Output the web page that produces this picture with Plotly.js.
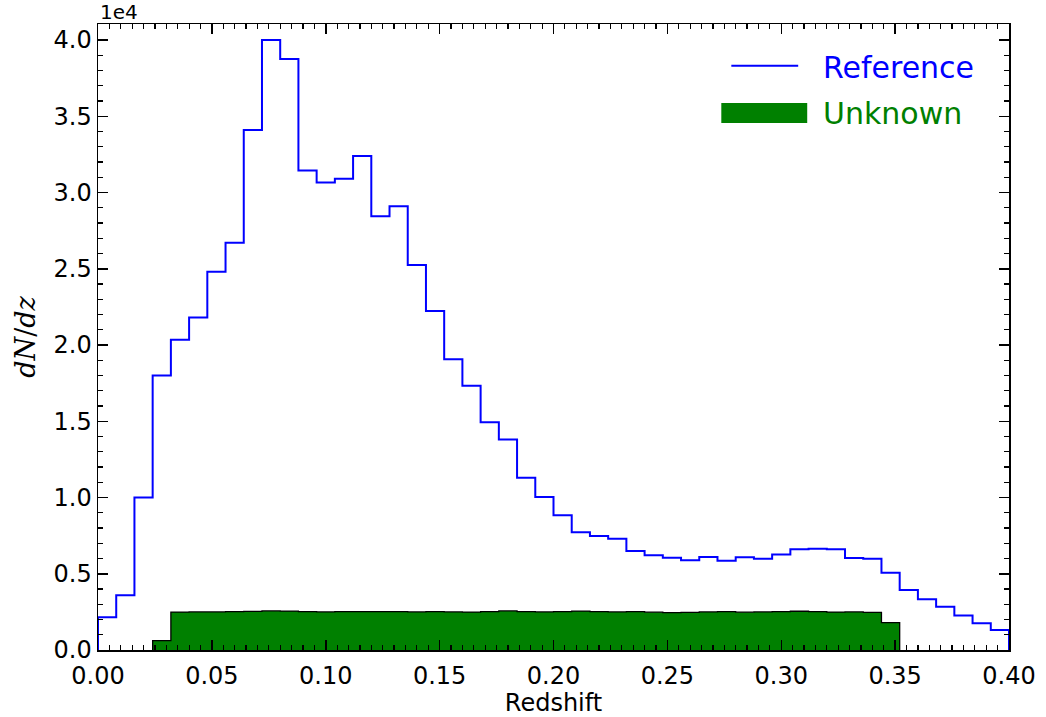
<!DOCTYPE html>
<html>
<head>
<meta charset="utf-8">
<script src="https://cdn.plot.ly/plotly-3.0.1.min.js"></script>
<style>html,body{margin:0;padding:0;background:#fff;}#chart{width:1046px;height:717px;}</style>
</head>
<body>
<div id="chart"></div>
<script>
// Histogram bins: 50 bins of width 0.008 from z = 0 to 0.4
const binStart = 0.0;
const binWidth = 0.008;
const binCount = 50;

// Reference sample dN/dz per bin
const referenceCounts = [
  2140, 3590, 10000, 18000, 20350, 21800, 24800, 26700, 34100, 40000,
  38750, 31450, 30650, 30900, 32400, 28450, 29100, 25250, 22230, 19060,
  17330, 14930, 13810, 11300, 10030, 8830, 7720, 7480, 7300, 6490,
  6210, 6050, 5880, 6100, 5860, 6080, 5990, 6270, 6600, 6640,
  6600, 6030, 5990, 5070, 3930, 3320, 2840, 2270, 1750, 1310
];

// Unknown sample dN/dz per bin (zero outside 0.024-0.352)
const unknownCounts = [
  0, 0, 0, 610, 2490, 2500, 2500, 2510, 2530, 2560,
  2550, 2510, 2500, 2510, 2520, 2520, 2510, 2500, 2520, 2500,
  2490, 2510, 2560, 2520, 2500, 2510, 2550, 2510, 2500, 2510,
  2480, 2450, 2470, 2500, 2510, 2480, 2500, 2510, 2540, 2510,
  2490, 2500, 2470, 1790, 0, 0, 0, 0, 0, 0
];

const seriesNames = ['Reference', 'Unknown'];
const seriesColors = ['#0000ff', '#008000'];

const yTickVals = [0, 5000, 10000, 15000, 20000, 25000, 30000, 35000, 40000];
const yTickText = ['0.0', '0.5', '1.0', '1.5', '2.0', '2.5', '3.0', '3.5', '4.0'];
const yMinorVals = [1000,2000,3000,4000,6000,7000,8000,9000,11000,12000,13000,14000,
  16000,17000,18000,19000,21000,22000,23000,24000,26000,27000,28000,29000,
  31000,32000,33000,34000,36000,37000,38000,39000,41000];
const xTickVals = [0, 0.05, 0.10, 0.15, 0.20, 0.25, 0.30, 0.35, 0.40];

const edges = [];
for (let i = 0; i <= binCount; i++) edges.push(+(binStart + i * binWidth).toFixed(6));

// matplotlib 'step' outline: start and end at zero
function stepXY(counts, trim) {
  let first = 0, last = counts.length - 1;
  if (trim) {
    while (first < counts.length && counts[first] === 0) first++;
    while (last >= 0 && counts[last] === 0) last--;
  }
  const x = [edges[first]], y = [0];
  for (let i = first; i <= last; i++) { x.push(edges[i]); y.push(counts[i]); }
  x.push(edges[last + 1]); y.push(counts[last]);
  x.push(edges[last + 1]); y.push(0);
  return {x, y};
}

const ref = stepXY(referenceCounts, false);
const unk = stepXY(unknownCounts, true);

const traces = [
  {
    x: unk.x, y: unk.y, type: 'scatter', mode: 'lines',
    line: {shape: 'hv', width: 0, color: seriesColors[1]},
    fill: 'tozeroy', fillcolor: seriesColors[1],
    name: seriesNames[1], showlegend: false, hoverinfo: 'skip'
  },
  {
    x: unk.x, y: unk.y, type: 'scatter', mode: 'lines',
    line: {shape: 'hv', width: 1.3, color: '#000000'},
    showlegend: false, hoverinfo: 'skip'
  },
  {
    x: ref.x, y: ref.y, type: 'scatter', mode: 'lines',
    line: {shape: 'hv', width: 2, color: seriesColors[0]},
    name: seriesNames[0], showlegend: false, hoverinfo: 'skip'
  }
];

const axisCommon = {
  showline: true, linecolor: '#000', linewidth: 1.5, mirror: 'allticks',
  ticks: 'inside', tickcolor: '#000', tickwidth: 1.5, ticklen: 10,
  showgrid: false, zeroline: false,
  tickfont: {family: 'DejaVu Sans', size: 24, color: '#000'}
};

// legend drawn in paper coordinates (matplotlib-style legend)
const legendShapes = [
  {type: 'line', xref: 'paper', yref: 'paper', x0: 0.6952, x1: 0.7686, y0: 0.9334, y1: 0.9334,
   line: {color: seriesColors[0], width: 2}},
  {type: 'rect', xref: 'paper', yref: 'paper', x0: 0.6842, x1: 0.7785, y0: 0.8419, y1: 0.8738,
   fillcolor: seriesColors[1], line: {width: 0}}
];
const legendTexts = [
  {xref: 'paper', yref: 'paper', x: 0.7935, y: 0.9305, xanchor: 'left', yanchor: 'middle',
   text: seriesNames[0], showarrow: false, font: {family: 'DejaVu Sans', size: 30, color: seriesColors[0]}},
  {xref: 'paper', yref: 'paper', x: 0.7935, y: 0.857, xanchor: 'left', yanchor: 'middle',
   text: seriesNames[1], showarrow: false, font: {family: 'DejaVu Sans', size: 30, color: seriesColors[1]}}
];

const layout = {
  width: 1046, height: 717,
  paper_bgcolor: '#fff', plot_bgcolor: '#fff',
  margin: {l: 98, r: 37, t: 24, b: 67},
  showlegend: false,
  xaxis: Object.assign({}, axisCommon, {
    range: [0, 0.4], tickvals: xTickVals, tickformat: '.2f', ticklabelstandoff: 4,
    minor: {ticks: 'inside', ticklen: 5, tickwidth: 1.2, tickcolor: '#000', dtick: 0.005, showgrid: false},
    title: {text: 'Redshift', font: {family: 'DejaVu Sans', size: 24, color: '#000'}, standoff: 5}
  }),
  yaxis: Object.assign({}, axisCommon, {
    range: [0, 41050], tickvals: yTickVals, ticktext: yTickText,
    minor: {ticks: 'inside', ticklen: 5, tickwidth: 1.2, tickcolor: '#000', tickvals: yMinorVals, showgrid: false},
    title: {text: '<i>dN</i>/<i>dz</i>', font: {family: 'DejaVu Serif', size: 27, color: '#000'}, standoff: 10}
  }),
  shapes: legendShapes,
  annotations: [{
    xref: 'paper', yref: 'paper', x: 0, y: 1, xanchor: 'left', yanchor: 'bottom',
    text: '1e4', showarrow: false, font: {family: 'DejaVu Sans', size: 20, color: '#000'}, yshift: -2
  }].concat(legendTexts)
};

Plotly.newPlot('chart', traces, layout, {staticPlot: true});
</script>
</body>
</html>
